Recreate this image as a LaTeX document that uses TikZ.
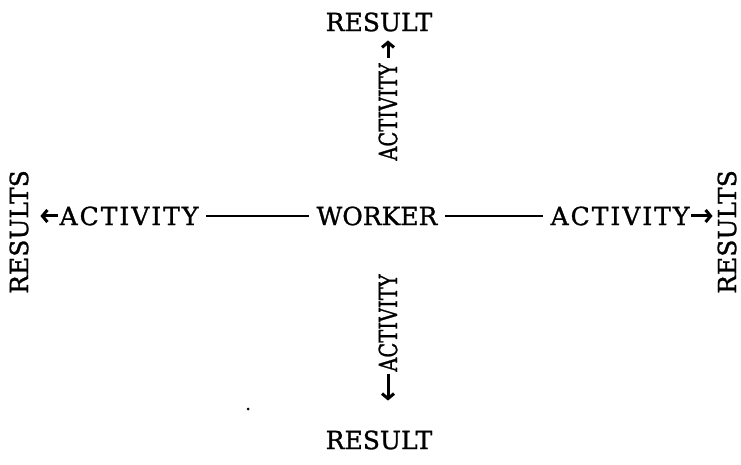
\documentclass[tikz,border=0pt]{standalone}
\usepackage{fontspec}
\setmainfont{DejaVu Serif}[FakeBold=1.1]
\newfontfamily\spaced{DejaVu Serif}[FakeBold=1.1,LetterSpace=8]
\usetikzlibrary{arrows.meta}
\begin{document}
\begin{tikzpicture}[x=1pt,y=1pt,
  lbl/.style={inner sep=0pt, outer sep=0pt, font=\fontsize{25}{29}\selectfont},
  vlbl/.style={lbl, rotate=90},
  link/.style={line width=1.8pt, shorten <=8pt, shorten >=8pt},
  arrtip/.tip={Straight Barb[length=5pt,width=12pt,line width=3pt]},
  arr/.style={line width=3pt, -arrtip}]
\useasboundingbox (0,0) rectangle (741,464);
% centre
\node[lbl] (worker) at (377,248) {WORKER};
% left
\node[lbl] (lact) at (129,248) {\spaced ACTIVITY};
\node[vlbl] (lres) at (19,232) {RESULTS};
% right
\node[lbl] (ract) at (620,248) {\spaced ACTIVITY};
\node[vlbl] (rres) at (727,232) {RESULTS};
% top
\node[vlbl] (tact) at (388,352) {\scalebox{0.78}[1]{ACTIVITY}};
\node[lbl] (tres) at (379,442) {RESULT};
% bottom
\node[vlbl] (bact) at (388,141) {\scalebox{0.78}[1]{ACTIVITY}};
\node[lbl] (bres) at (379,24) {RESULT};
% connectors
\draw[link] (worker) -- (lact);
\draw[link] (worker) -- (ract);
\draw[arr, shorten <=2pt, shorten >=12pt] (lact.west) -- (lact.west -| lres.south);
\draw[arr, shorten <=2pt, shorten >=5pt] (ract.east) -- (ract.east -| rres.north);
\draw[arr, shorten <=5pt, shorten >=9pt] (tact.east) -- (tact.east |- tres.south);
\draw[arr, shorten <=2pt, shorten >=30pt] (bact.west) -- (bact.west |- bres.north);
% speck
\fill (248,55) circle (1.5pt);
\end{tikzpicture}
\end{document}
